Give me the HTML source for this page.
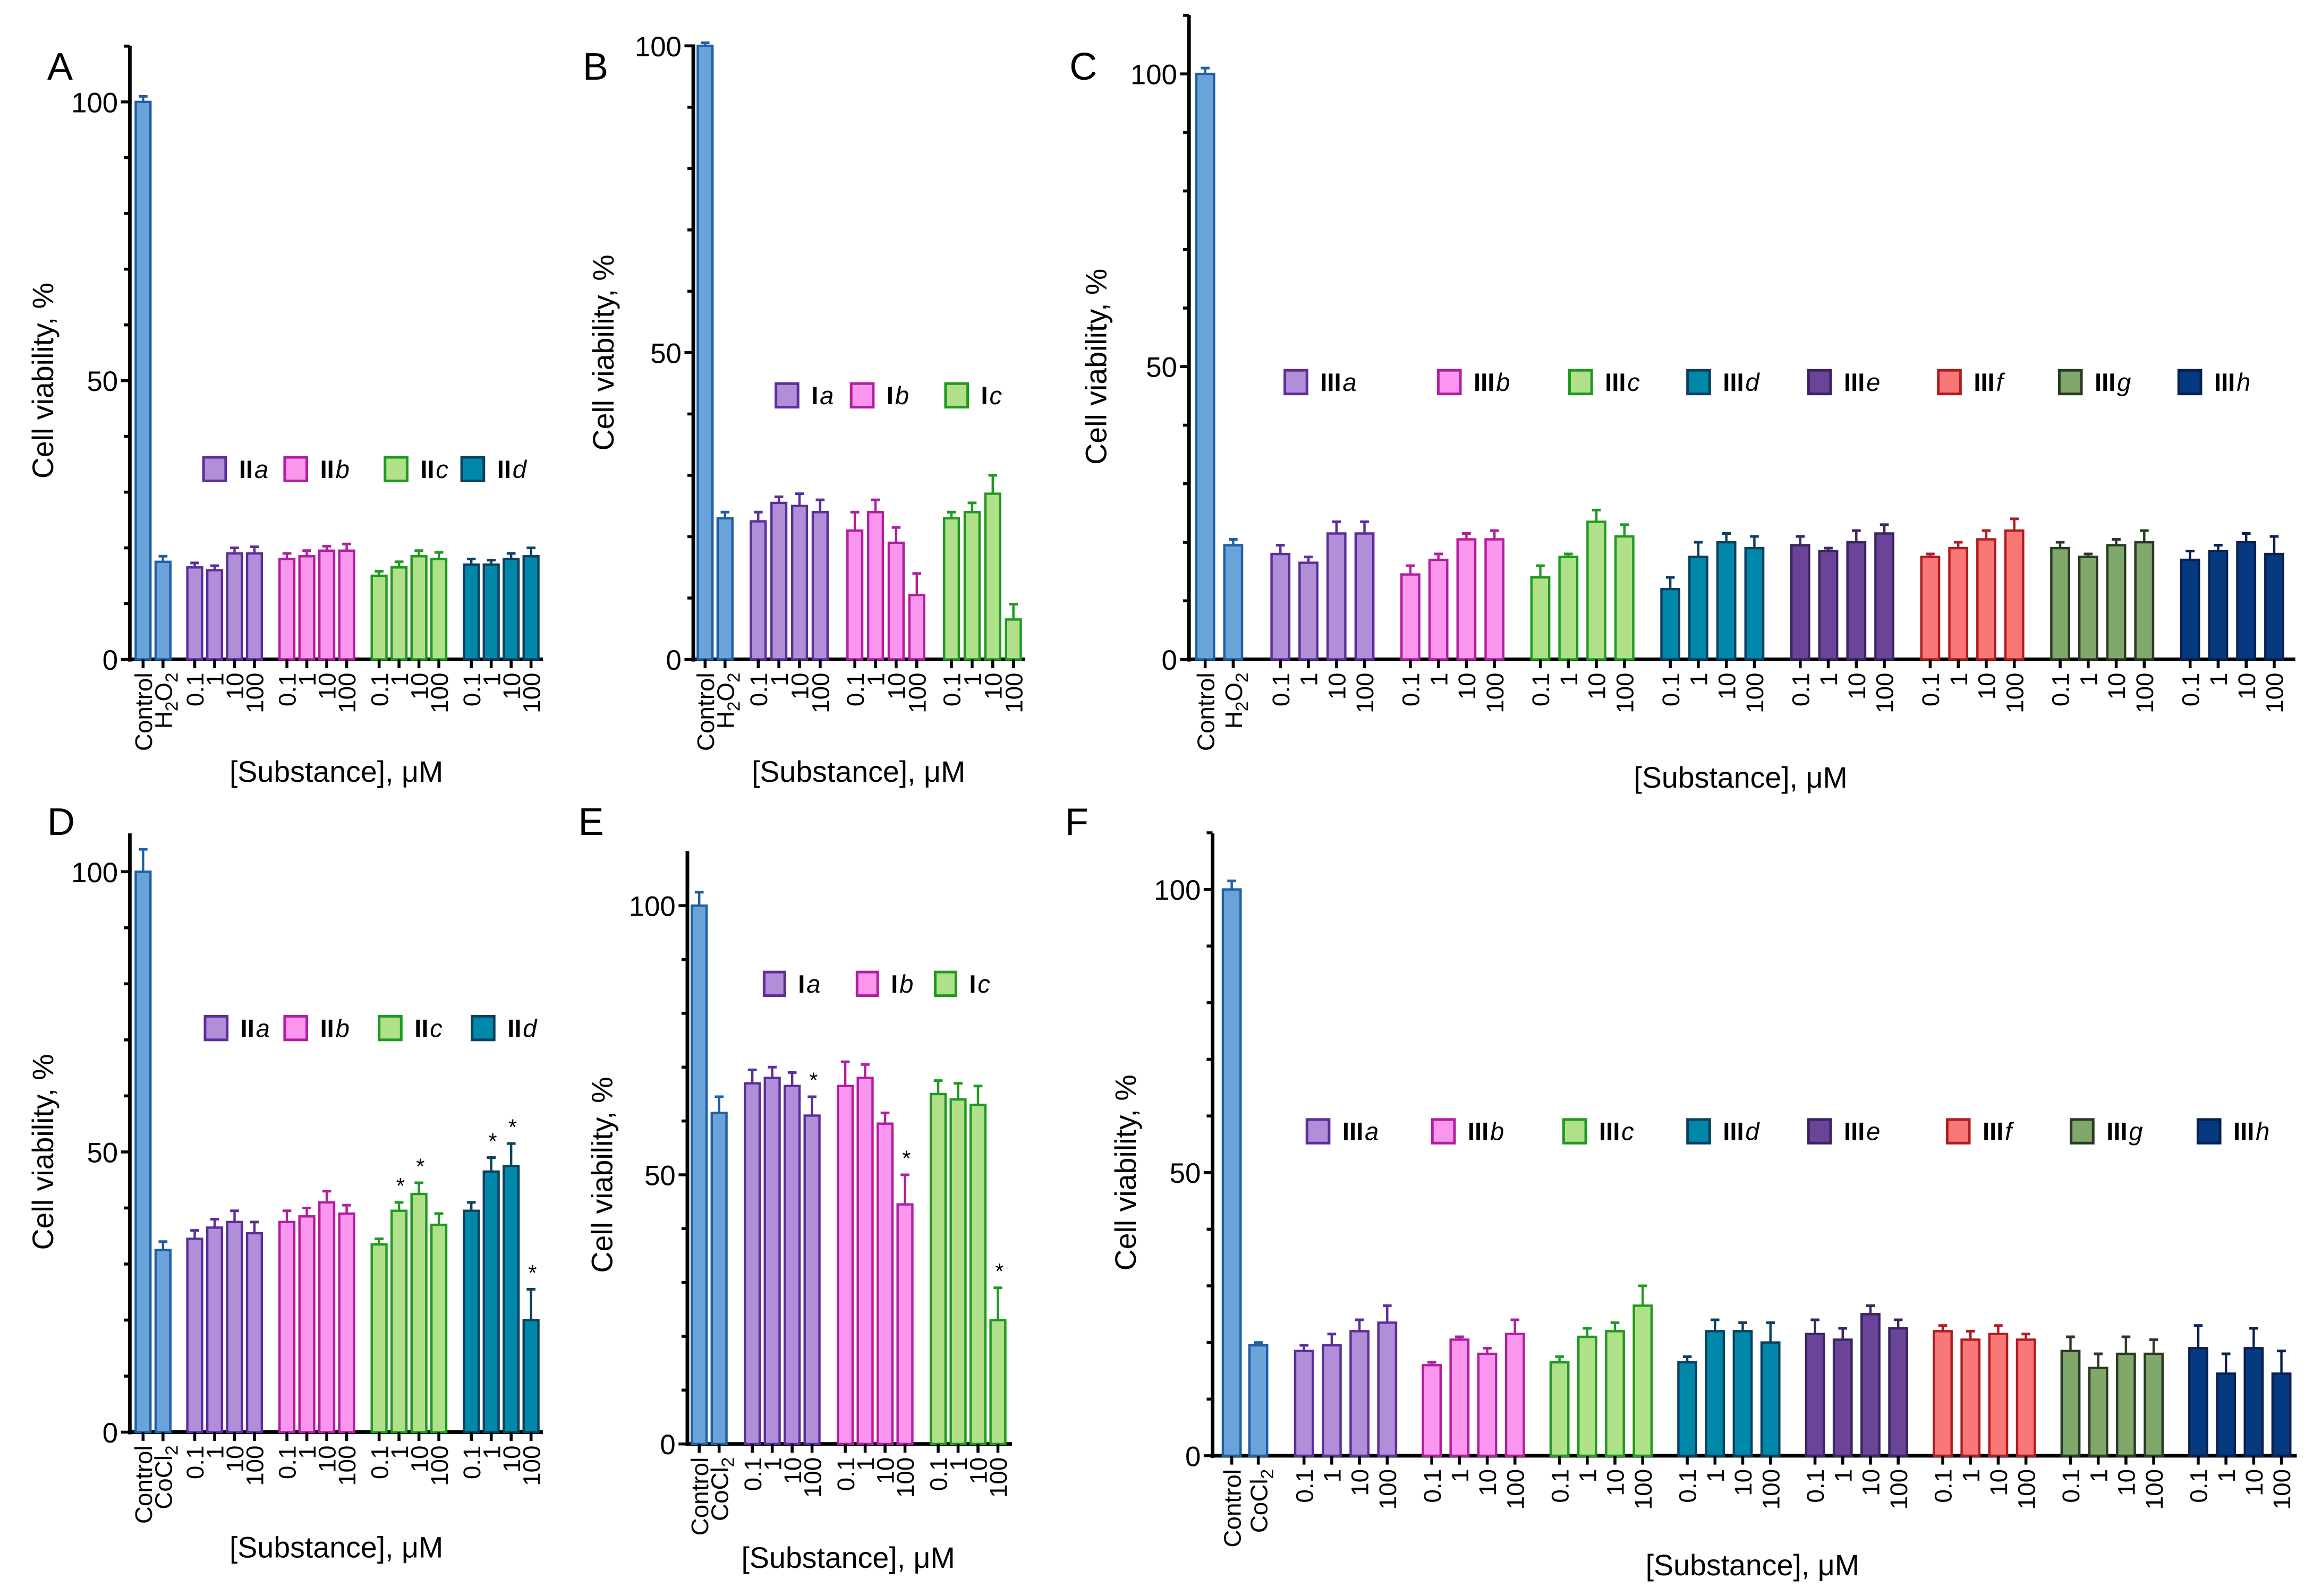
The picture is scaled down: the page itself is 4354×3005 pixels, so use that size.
<!DOCTYPE html>
<html><head><meta charset="utf-8"><style>
html,body{margin:0;padding:0;background:#fff;}
svg{display:block;}
text{font-family:"Liberation Sans",sans-serif;fill:#000;}
</style></head><body>
<svg id="fig" width="4354" height="3005" viewBox="0 0 1568 1082" xmlns="http://www.w3.org/2000/svg"></svg>
<script>
// ---------- DATA ----------
const groupsII = ["a","b","c","d"];
const groupsI = ["a","b","c"];
const groupsIII = ["a","b","c","d","e","f","g","h"];
const doses = ["0.1","1","10","100"];

const A_ctrl = [100, 17.5];
const A_ctrlErr = [1, 1];
const A_vals = [[16.5,16,19,19],[18,18.5,19.5,19.5],[15,16.5,18.5,18],[17,17,18,18.5]];
const A_err = [[0.8,0.8,1,1.2],[1,1,0.8,1.2],[0.8,1,1,1.2],[1,0.8,1,1.5]];
const A_star = [[0,0,0,0],[0,0,0,0],[0,0,0,0],[0,0,0,0]];

const B_ctrl = [100, 23];
const B_ctrlErr = [0.5, 1];
const B_vals = [[22.5,25.5,25,24],[21,24,19,10.5],[23,24,27,6.5]];
const B_err = [[1.5,1,2,2],[3,2,2.5,3.5],[1,1.5,3,2.5]];
const B_star = [[0,0,0,0],[0,0,0,0],[0,0,0,0]];

const C_ctrl = [100, 19.5];
const C_ctrlErr = [1, 1];
const C_vals = [[18,16.5,21.5,21.5],[14.5,17,20.5,20.5],[14,17.5,23.5,21],[12,17.5,20,19],[19.5,18.5,20,21.5],[17.5,19,20.5,22],[19,17.5,19.5,20],[17,18.5,20,18]];
const C_err = [[1.5,1,2,2],[1.5,1,1,1.5],[2,0.5,2,2],[2,2.5,1.5,2],[1.5,0.5,2,1.5],[0.5,1,1.5,2],[1,0.5,1,2],[1.5,1,1.5,3]];
const C_star = [[0,0,0,0],[0,0,0,0],[0,0,0,0],[0,0,0,0],[0,0,0,0],[0,0,0,0],[0,0,0,0],[0,0,0,0]];

const D_ctrl = [100, 32.5];
const D_ctrlErr = [4, 1.5];
const D_vals = [[34.5,36.5,37.5,35.5],[37.5,38.5,41,39],[33.5,39.5,42.5,37],[39.5,46.5,47.5,20]];
const D_err = [[1.5,1.5,2,2],[2,1.5,2,1.5],[1,1.5,2,2],[1.5,2.5,4,5.5]];
const D_star = [[0,0,0,0],[0,0,0,0],[0,1,1,0],[0,1,1,1]];

const E_ctrl = [100, 61.5];
const E_ctrlErr = [2.5, 3];
const E_vals = [[67,68,66.5,61],[66.5,68,59.5,44.5],[65,64,63,23]];
const E_err = [[2.5,2,2.5,3.5],[4.5,2.5,2,5.5],[2.5,3,3.5,6]];
const E_star = [[0,0,0,1],[0,0,0,1],[0,0,0,1]];

const F_ctrl = [100, 19.5];
const F_ctrlErr = [1.5, 0.5];
const F_vals = [[18.5,19.5,22,23.5],[16,20.5,18,21.5],[16.5,21,22,26.5],[16.5,22,22,20],[21.5,20.5,25,22.5],[22,20.5,21.5,20.5],[18.5,15.5,18,18],[19,14.5,19,14.5]];
const F_err = [[1,2,2,3],[0.5,0.5,1,2.5],[1,1.5,1.5,3.5],[1,2,1.5,3.5],[2.5,2,1.5,1.5],[1,1.5,1.5,1],[2.5,2.5,3,2.5],[4,3.5,3.5,4]];
const F_star = [[0,0,0,0],[0,0,0,0],[0,0,0,0],[0,0,0,0],[0,0,0,0],[0,0,0,0],[0,0,0,0],[0,0,0,0]];

// ---------- STYLES ----------
const FILL = {ctrl:"#6aa3d8",a:"#b08ed8",b:"#fa96ee",c:"#b0e08a",d:"#0088aa",e:"#6a4498",f:"#f87878",g:"#80a86a",h:"#053a80"};
const STROKE = {ctrl:"#1f5fa6",a:"#5b2e9c",b:"#b21ea0",c:"#1f9a1f",d:"#0d4060",e:"#3a2560",f:"#b01c20",g:"#2a3a24",h:"#0a2050"};

const NS = "http://www.w3.org/2000/svg";
const svg = document.getElementById("fig");
function mk(tag, attrs, parent){
  const e = document.createElementNS(NS, tag);
  for (const k in attrs) e.setAttribute(k, attrs[k]);
  (parent||svg).appendChild(e);
  return e;
}

function panel(cfg){
  const g = mk("g", {});
  
  
  const y = v => cfg.zero - v * (cfg.zero - cfg.y100) / 100;
  const xCtrl = i => cfg.cx0 + i * cfg.cstep;
  const xBar = (gi, di) => cfg.gx0 + gi * cfg.gstride + di * cfg.step;
  const bw = cfg.bw;
  const L = mk("text", {x:cfg.lx, y:cfg.ly, "font-size":26}, g);
  L.textContent = cfg.letter;
  
  
  const yt = mk("text", {x:0, y:0, "font-size":20, "text-anchor":"middle", transform:`translate(${cfg.ytx},${(cfg.zero+cfg.y100)/2}) rotate(-90)`}, g);
  yt.textContent = "Cell viability, %";
  
  
  const xt = mk("text", {x:cfg.xtx, y:cfg.xty, "font-size":20, "text-anchor":"middle"}, g);
  xt.textContent = "[Substance], μM";
  
  
  const ya = mk("line", {x1:cfg.ax, x2:cfg.ax, y1:cfg.top, y2:cfg.zero+1.5, stroke:"#000","stroke-width":2.5}, g);
  
  
  const xa = mk("line", {x1:cfg.ax-1, x2:cfg.axEnd, y1:cfg.zero, y2:cfg.zero, stroke:"#000","stroke-width":2.5}, g);
  
  
  for (let v = 0; v <= cfg.ymax; v += 10){
    const major = v % 50 === 0;
    mk("line", {x1:cfg.ax - (major?6:4), x2:cfg.ax, y1:y(v), y2:y(v), stroke:"#000","stroke-width":2}, g);
    if (major){
      const t = mk("text", {x:cfg.ax-8, y:y(v)+7, "font-size":19, "text-anchor":"end"}, g);
      t.textContent = v;
      
      
    }
  }
  function bar(x, v, e, key, star){
    const r = mk("rect", {x:x-bw/2, y:y(v), width:bw, height:cfg.zero-y(v), fill:FILL[key], stroke:STROKE[key], "stroke-width":1.6}, g);
    
    
    mk("line", {x1:x, x2:x, y1:y(v), y2:y(v+e), stroke:STROKE[key], "stroke-width":1.6}, g);
    mk("line", {x1:x-3, x2:x+3, y1:y(v+e), y2:y(v+e), stroke:STROKE[key], "stroke-width":1.8}, g);
    mk("line", {x1:x, x2:x, y1:cfg.zero, y2:cfg.zero+6, stroke:"#000","stroke-width":2}, g);
    if (star){
      const s = mk("text", {x:x+1, y:y(v+e)-6, "font-size":15, "text-anchor":"middle"}, g);
      s.textContent = "*";
      
      
    }
  }
  function xlabel(x, parts){
    const t = mk("text", {x:0, y:0, "font-size":16.5, "text-anchor":"end", transform:`translate(${x+6},${cfg.zero+9}) rotate(-90)`}, g);
    
    
    parts.forEach(p => {
      const s = mk("tspan", p.sub ? {"font-size":12, dy:4} : (p.after ? {dy:-4} : {}), t);
      s.textContent = p.t;
    });
  }
  cfg.ctrl.forEach((v,i) => bar(xCtrl(i), v, cfg.ctrlErr[i], "ctrl", false));
  xlabel(xCtrl(0), [{t:"Control"}]);
  xlabel(xCtrl(1), cfg.agent);
  cfg.vals.forEach((arr, gi) => arr.forEach((v, di) => {
    const k = cfg.groups[gi];
    bar(xBar(gi,di), v, cfg.err[gi][di], k, cfg.star[gi][di]);
    xlabel(xBar(gi,di), [{t:doses[di]}]);
  }));
  cfg.groups.forEach((k, gi) => {
    const lx = cfg.legX[gi], ly = cfg.legY;
    const r = mk("rect", {x:lx, y:ly-8, width:cfg.legW, height:16, fill:FILL[k], stroke:STROKE[k], "stroke-width":1.8}, g);
    
    
    const t = mk("text", {x:lx+cfg.legW+9, y:ly+6, "font-size":17, "font-family":"Liberation Serif, serif"}, g);
    
    
    const s1 = mk("tspan", {"font-weight":"bold"}, t);
    s1.textContent = cfg.roman;
    const s2 = mk("tspan", {"font-style":"italic", dx:1}, t);
    s2.textContent = k;
  });
}
const H2O2 = [{t:"H"},{t:"2",sub:true},{t:"O",after:true},{t:"2",sub:true}];
const CoCl2 = [{t:"CoCl"},{t:"2",sub:true}];

panel({letter:"A", lx:32, ly:54, ytx:36, xtx:228, xty:530, ax:88, axEnd:368, top:31, zero:447, y100:69, ymax:110,
  cx0:97, cstep:13.5, gx0:132, step:13.5, gstride:62.5, bw:10, agent:H2O2, groups:groupsII, roman:"II",
  ctrl:A_ctrl, ctrlErr:A_ctrlErr, vals:A_vals, err:A_err, star:A_star, legX:[138,193,261,313], legY:318, legW:15});
panel({letter:"B", lx:395, ly:54, ytx:416, xtx:582, xty:530, ax:470, axEnd:695, top:30, zero:447, y100:31, ymax:100,
  cx0:478, cstep:13.5, gx0:514, step:14, gstride:65.5, bw:10, agent:H2O2, groups:groupsI, roman:"I",
  ctrl:B_ctrl, ctrlErr:B_ctrlErr, vals:B_vals, err:B_err, star:B_star, legX:[526,577,641], legY:268, legW:15});
panel({letter:"C", lx:725, ly:54, ytx:750, xtx:1180, xty:534, ax:806, axEnd:1556, top:10, zero:447, y100:50, ymax:110,
  cx0:817, cstep:19, gx0:868, step:19, gstride:88.1, bw:12, agent:H2O2, groups:groupsIII, roman:"III",
  ctrl:C_ctrl, ctrlErr:C_ctrlErr, vals:C_vals, err:C_err, star:C_star,
  legX:[871,975,1064,1144,1226,1314,1396,1477], legY:259, legW:15});
panel({letter:"D", lx:32, ly:566, ytx:36, xtx:228, xty:1056, ax:88, axEnd:368, top:565, zero:971, y100:591, ymax:100,
  cx0:97, cstep:13.5, gx0:132, step:13.5, gstride:62.5, bw:10, agent:CoCl2, groups:groupsII, roman:"II",
  ctrl:D_ctrl, ctrlErr:D_ctrlErr, vals:D_vals, err:D_err, star:D_star, legX:[139,193,257,320], legY:697, legW:15});
panel({letter:"E", lx:392, ly:566, ytx:415, xtx:575, xty:1063, ax:466, axEnd:686, top:577, zero:979, y100:614, ymax:100,
  cx0:474, cstep:13.5, gx0:510, step:13.5, gstride:63, bw:10, agent:CoCl2, groups:groupsI, roman:"I",
  ctrl:E_ctrl, ctrlErr:E_ctrlErr, vals:E_vals, err:E_err, star:E_star, legX:[518,581,634], legY:667, legW:14});
panel({letter:"F", lx:722, ly:566, ytx:770, xtx:1188, xty:1068, ax:822, axEnd:1557, top:565, zero:987, y100:603, ymax:110,
  cx0:835, cstep:18, gx0:884, step:18.8, gstride:86.6, bw:12, agent:CoCl2, groups:groupsIII, roman:"III",
  ctrl:F_ctrl, ctrlErr:F_ctrlErr, vals:F_vals, err:F_err, star:F_star,
  legX:[886,971,1060,1144,1226,1320,1404,1490], legY:767, legW:15});
</script>
</body></html>
